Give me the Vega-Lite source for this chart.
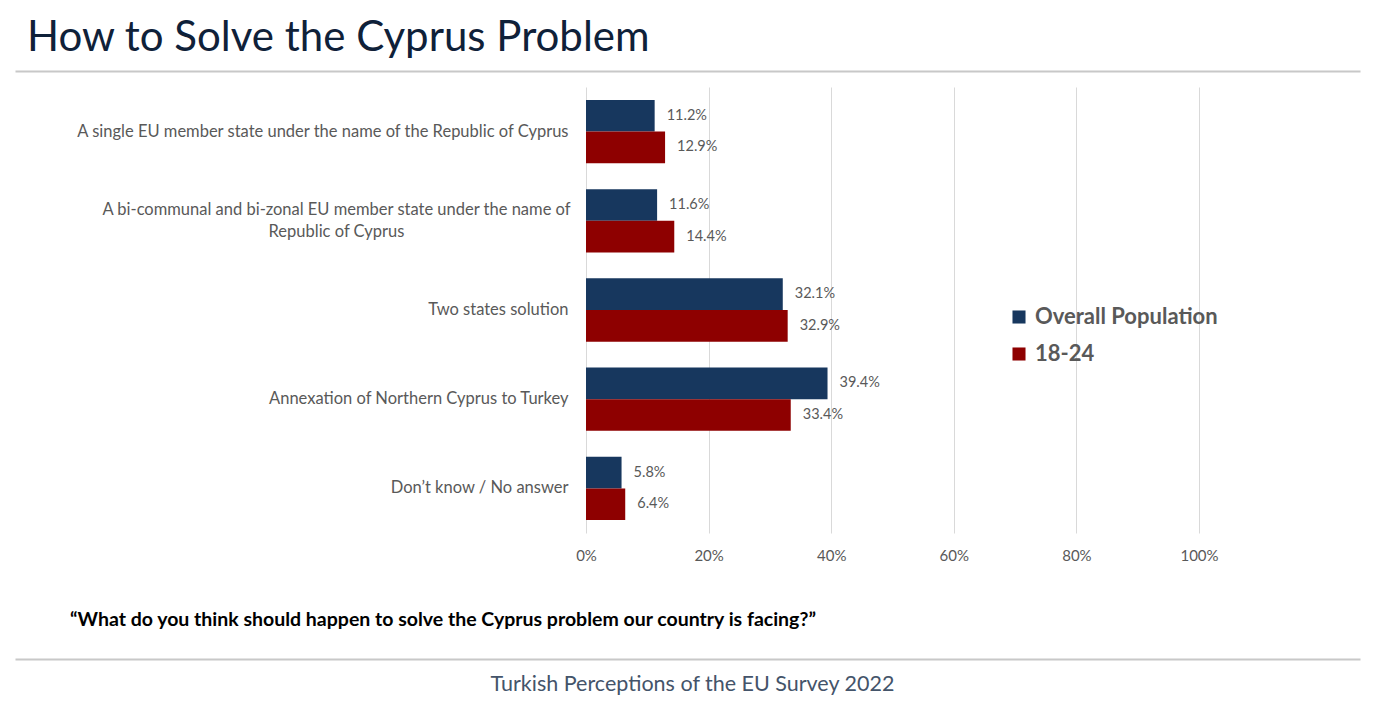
{
  "$schema": "https://vega.github.io/schema/vega-lite/v6.json",
  "description": "How to Solve the Cyprus Problem - Turkish Perceptions of the EU Survey 2022",
  "background": "white",
  "padding": {"left": 15, "top": 17, "right": 40, "bottom": 0},
  "spacing": 16,
  "vconcat": [
    {
      "width": 1345,
      "height": 0,
      "title": {
        "text": "How to Solve the Cyprus Problem",
        "anchor": "start",
        "frame": "group",
        "dx": 12,
        "offset": -9,
        "fontSize": 42,
        "fontWeight": "normal",
        "color": "#0f2139"
      },
      "data": {"values": [{"v": 0}, {"v": 1}]},
      "mark": {"type": "point", "opacity": 0, "size": 0},
      "encoding": {
        "x": {
          "field": "v",
          "type": "quantitative",
          "axis": {"title": null, "labels": false, "ticks": false, "grid": false, "domainColor": "#c8c8c8", "domainWidth": 2}
        }
      }
    },
    {
      "hconcat": [
        {
          "width": 571,
          "height": 446,
          "data": {"values": [{"v": 0}]},
          "mark": {"type": "point", "opacity": 0, "size": 0},
          "encoding": {}
        },
        {
          "width": 613,
          "height": 446,
          "data": {
            "values": [
              {"answer": "A single EU member state under the name of the Republic of Cyprus", "group": "Overall Population", "value": 0.112},
              {"answer": "A single EU member state under the name of the Republic of Cyprus", "group": "18-24", "value": 0.129},
              {"answer": "A bi-communal and bi-zonal EU member state under the name of Republic of Cyprus", "group": "Overall Population", "value": 0.116},
              {"answer": "A bi-communal and bi-zonal EU member state under the name of Republic of Cyprus", "group": "18-24", "value": 0.144},
              {"answer": "Two states solution", "group": "Overall Population", "value": 0.321},
              {"answer": "Two states solution", "group": "18-24", "value": 0.329},
              {"answer": "Annexation of Northern Cyprus to Turkey", "group": "Overall Population", "value": 0.394},
              {"answer": "Annexation of Northern Cyprus to Turkey", "group": "18-24", "value": 0.334},
              {"answer": "Don’t know / No answer", "group": "Overall Population", "value": 0.058},
              {"answer": "Don’t know / No answer", "group": "18-24", "value": 0.064}
            ]
          },
          "encoding": {
            "y": {
              "field": "answer",
              "type": "nominal",
              "sort": [
                "A single EU member state under the name of the Republic of Cyprus",
                "A bi-communal and bi-zonal EU member state under the name of Republic of Cyprus",
                "Two states solution",
                "Annexation of Northern Cyprus to Turkey",
                "Don’t know / No answer"
              ],
              "scale": {"paddingInner": 0.29, "paddingOuter": 0.145},
              "axis": {
                "title": null,
                "domain": false,
                "ticks": false,
                "labelFontSize": 16.5,
                "labelColor": "#595959",
                "labelLimit": 600,
                "labelLineHeight": 22,
                "labelBaseline": "middle",
                "labelPadding": {"condition": {"test": "indexof(datum.value, 'bi-communal') >= 0", "value": 250}, "value": 18},
                "labelAlign": {"condition": {"test": "indexof(datum.value, 'bi-communal') >= 0", "value": "center"}, "value": "right"},
                "labelOffset": {"condition": {"test": "indexof(datum.value, 'bi-communal') >= 0", "value": -11}, "value": 0},
                "labelExpr": "indexof(datum.value, 'bi-communal') >= 0 ? ['A bi-communal and bi-zonal EU member state under the name of', 'Republic of Cyprus'] : datum.value"
              }
            },
            "yOffset": {"field": "group", "type": "nominal", "sort": ["Overall Population", "18-24"]},
            "x": {
              "field": "value",
              "type": "quantitative",
              "scale": {"domain": [0, 1]},
              "axis": {
                "title": null,
                "values": [0, 0.2, 0.4, 0.6, 0.8, 1],
                "format": "%",
                "domain": false,
                "ticks": false,
                "grid": true,
                "gridColor": "#d9d9d9",
                "labelColor": "#595959",
                "labelFontSize": 15,
                "labelPadding": 15,
                "labelFlush": false
              }
            }
          },
          "layer": [
            {
              "mark": {"type": "bar"},
              "encoding": {
                "color": {
                  "field": "group",
                  "type": "nominal",
                  "scale": {"domain": ["Overall Population", "18-24"], "range": ["#17375e", "#8e0000"]},
                  "legend": {
                    "title": null,
                    "orient": "none",
                    "legendX": 993,
                    "legendY": 255,
                    "symbolType": "square",
                    "symbolSize": 170,
                    "symbolStrokeWidth": 0,
                    "labelFontSize": 22,
                    "labelFontWeight": "bold",
                    "labelColor": "#595959",
                    "labelOffset": 5,
                    "labelLimit": 300,
                    "rowPadding": 15
                  }
                }
              }
            },
            {
              "mark": {"type": "text", "align": "left", "dx": 12, "fontSize": 14.5, "color": "#595959"},
              "encoding": {"text": {"field": "value", "type": "quantitative", "format": ".1%"}}
            }
          ]
        }
      ],
      "spacing": 0,
      "bounds": "flush"
    },
    {
      "width": 1345,
      "height": 0,
      "title": {
        "text": "“What do you think should happen to solve the Cyprus problem our country is facing?”",
        "orient": "bottom",
        "anchor": "start",
        "frame": "group",
        "dx": 55,
        "offset": 12,
        "fontSize": 19.5,
        "fontWeight": "bold",
        "color": "#000000"
      },
      "data": {"values": [{"v": 0}]},
      "mark": {"type": "point", "opacity": 0, "size": 0},
      "encoding": {}
    },
    {
      "width": 1345,
      "height": 13,
      "data": {"values": [{"v": 0}, {"v": 1}]},
      "mark": {"type": "point", "opacity": 0, "size": 0},
      "encoding": {
        "x": {
          "field": "v",
          "type": "quantitative",
          "axis": {
            "labels": false,
            "ticks": false,
            "grid": false,
            "domainColor": "#c8c8c8",
            "domainWidth": 2,
            "title": "Turkish Perceptions of the EU Survey 2022",
            "titleFontSize": 21.5,
            "titleFontWeight": "normal",
            "titleColor": "#44546a",
            "titlePadding": 14,
            "titleX": 677
          }
        }
      }
    }
  ],
  "config": {
    "font": "Lato",
    "view": {"stroke": null}
  }
}
